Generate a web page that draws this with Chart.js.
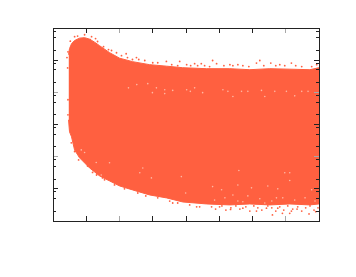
<!DOCTYPE html>
<html>
<head>
<meta charset="utf-8">
<script src="https://cdn.jsdelivr.net/npm/chart.js@4"></script>
<style>
  body { margin: 0; background: #fff; }
  canvas { display: block; }
</style>
</head>
<body>
<canvas id="scatter-chart" width="356" height="277"></canvas>
<script>
// y values are log10 of the plotted quantity, the axis has no labels so x is in tick units
const xTicks = [0, 1, 2, 3, 4, 5, 6, 7, 8];
const yMajorTicks = [0, 1, 2, 3, 4, 5, 6];
const yMinorTicks = [
  0.301, 0.699, 0.903, 1.301, 1.699, 1.903, 2.301, 2.699, 2.903,
  3.301, 3.699, 3.903, 4.301, 4.699, 4.903, 5.301, 5.699, 5.903,
];

// outline of the dense cloud
const edgeX = [
  0.467, 0.497, 0.557, 0.648, 0.798, 0.949, 1.099, 1.25, 1.401, 1.702, 2.003, 2.395,
  2.907, 3.419, 3.901, 4.623, 5.316, 5.919, 6.521, 7.123, 7.726, 8,
];
const edgeUpper = [
  5.17, 5.36, 5.51, 5.61, 5.685, 5.7, 5.654, 5.56, 5.45, 5.234, 5.062, 4.953,
  4.86, 4.813, 4.766, 4.735, 4.735, 4.704, 4.735, 4.72, 4.704, 4.766,
];
const edgeLower = [
  3.146, 2.773, 2.617, 2.212, 1.963, 1.807, 1.651, 1.526, 1.402, 1.246, 1.09, 0.966,
  0.81, 0.717, 0.592, 0.53, 0.5, 0.53, 0.5, 0.53, 0.5, 0.53,
];

// stray points outside the outline
const strayX = [
  1.28, 1.12, 1.45, 1.67, 1.91, 2.2, 2.51, 2.76, 0.42, 0.45, 0.52, 4.8, 4.92, 6.22, 6.12,
  6.55, 7.17, 6.82, 5.32, 5.56, 7.93, 3.41, 3.81, 4.26, 4.46, 6.6, 6.12, 5.34, 5.71, 6.9,
  7.17, 7.34, 7.7, 7.9, 6.42, 6.76, 7.12, 5.01, 3.6, 4.32, 0.55, 0.65, 0.95, 1.19, 1.49,
  0.44, 0.45, 0.45,
  0.65, 0.74, 0.95, 1.16, 1.34, 1.52, 1.76, 2.06, 2.24, 2.39, 2.58, 3, 3.15, 3.57, 3.75,
  4.02, 4.14, 4.35, 4.56, 4.71, 5.14, 5.41, 5.71, 5.89, 6.34, 6.7, 6.97, 7.3, 7.48, 7.78,
  4.77, 4.89, 5.08, 5.2, 5.35, 5.5, 5.62, 5.8, 5.92, 6.04, 6.16, 6.28, 6.46, 6.58, 6.7,
  6.82, 6.94, 7.06, 7.21, 7.36, 7.48, 7.6, 7.73, 7.85, 7.97,
  0.77, 1.04, 1.31, 1.55, 1.85, 2.15, 2.55, 2.79, 3.15, 3.51, 3.75, 4.11, 4.41,
];
const strayY = [
  5.67, 5.64, 5.33, 5.33, 5.23, 5.2, 5.08, 4.99, 5.08, 5.26, 5.59, 4.99, 4.89, 4.99, 4.91,
  4.91, 4.91, 4.86, 4.86, 4.86, 4.86, 4.96, 4.96, 4.89, 4.89, 0.19, 0.31, 0.36, 0.4, 0.24,
  0.31, 0.37, 0.22, 0.29, 0.4, 0.4, 0.24, 0.44, 0.56, 0.44, 2.43, 2.16, 1.85, 1.51, 1.34,
  4.76, 3.77, 3.3,
  5.73, 5.75, 5.79, 5.73, 5.58, 5.42, 5.3, 5.14, 5.08, 5.02, 5.02, 4.92, 4.92, 4.86, 4.83,
  4.86, 4.83, 4.83, 4.83, 4.8, 4.83, 4.83, 4.83, 4.8, 4.83, 4.83, 4.83, 4.83, 4.8, 4.8,
  0.44, 0.37, 0.47, 0.34, 0.41, 0.47, 0.37, 0.44, 0.31, 0.47, 0.41, 0.34, 0.47, 0.41, 0.31,
  0.44, 0.34, 0.47, 0.37, 0.44, 0.31, 0.41, 0.47, 0.34, 0.41,
  1.9, 1.71, 1.43, 1.28, 1.12, 1, 0.87, 0.78, 0.72, 0.62, 0.56, 0.5, 0.44,
];

// thin spots inside the cloud
const gapX = [
  5.11, 5.26, 5.41, 5.67, 5.86, 6.27, 6.37, 6.67, 7.02, 7.27, 7.48, 7.67, 2.27, 2.52, 2.85,
  2.99, 3.11, 3.36, 3.36, 3.6, 4.02, 4.13, 4.26, 4.5, 5.59, 6.97, 7.12, 7.12, 6.46, 5.56,
  5.41, 5.97, 5.07, 4.8, 6.76, 7.78, 6.37, 5.71, 6.72, 2.96, 3.86, 3.99, 0.85, 1.3, 0.95,
  1.7, 1.45, 2.61, 2.7,
  4.86, 5.17, 5.56, 5.86, 6.22, 6.58, 6.91, 7.27, 7.58, 7.88,
];
const gapY = [
  4.08, 4.03, 3.87, 4.03, 4.03, 4.06, 3.87, 4.03, 4.03, 3.89, 4.03, 4.03, 4.14, 4.24, 4.27,
  3.99, 4.14, 4.08, 3.96, 4.06, 4.08, 4.03, 4.14, 3.99, 1.57, 1.5, 1.5, 1.26, 1.09, 1.12,
  0.81, 1.03, 0.97, 1.07, 1, 0.97, 0.56, 0.6, 0.72, 1.34, 1.38, 0.87, 2.21, 1.82, 2.13,
  1.81, 1.43, 1.5, 1.65,
  0.65, 0.72, 0.62, 0.78, 0.69, 0.62, 0.72, 0.65, 0.72, 0.62,
];

const pairs = (xs, ys) => xs.map((x, i) => ({ x: x, y: ys[i] }));

const cloudColor = "#ff6040";
const frameColor = "#222222";

function hideSize(scale) {
  if (scale.isHorizontal()) scale.height = 0;
  else scale.width = 0;
}

function axis(position, ticks, min, max, tickLength, soft) {
  return {
    type: "linear",
    position: position,
    min: min,
    max: max,
    afterFit: hideSize,
    afterBuildTicks: (scale) => {
      scale.ticks = ticks.map((v) => ({ value: v }));
    },
    ticks: { display: false },
    border: { display: true, color: frameColor, width: 1, z: 2 },
    grid: {
      z: 2,
      drawOnChartArea: false,
      drawTicks: true,
      tickLength: -tickLength,
      tickColor: (c) => (soft.includes(c.tick && c.tick.value) ? "#a8a8a8" : frameColor),
      tickWidth: 1,
    },
  };
}

const softX = [2, 7];
const softY = [2, 4];

new Chart(document.getElementById("scatter-chart"), {
  type: "scatter",
  data: {
    datasets: [
      {
        data: pairs(edgeX, edgeUpper),
        order: 3,
        showLine: true,
        borderColor: cloudColor,
        borderWidth: 1,
        backgroundColor: cloudColor,
        pointRadius: 0,
        tension: 0,
        fill: "+1",
      },
      {
        data: pairs(edgeX, edgeLower),
        order: 2,
        showLine: true,
        borderColor: cloudColor,
        borderWidth: 1,
        pointRadius: 0,
        tension: 0,
      },
      {
        data: pairs(strayX, strayY),
        order: 1,
        backgroundColor: cloudColor,
        pointRadius: 0.9,
        pointBorderWidth: 0,
      },
      {
        data: pairs(gapX, gapY),
        order: 0,
        backgroundColor: "#ffb8a4",
        pointRadius: 0.8,
        pointBorderWidth: 0,
      },
    ],
  },
  options: {
    responsive: false,
    animation: false,
    layout: { padding: { left: 53, top: 28, right: 37, bottom: 56 } },
    plugins: { legend: { display: false }, tooltip: { enabled: false } },
    scales: {
      x: axis("bottom", xTicks, 0, 8, 5, softX),
      xTop: axis("top", xTicks, 0, 8, 5, softX),
      y: axis("left", yMajorTicks, 0, 6, 5, softY),
      yMinor: axis("left", yMinorTicks, 0, 6, 3, []),
      yRight: axis("right", yMajorTicks, 0, 6, 5, softY),
      yRightMinor: axis("right", yMinorTicks, 0, 6, 3, []),
    },
  },
});
</script>
</body>
</html>
